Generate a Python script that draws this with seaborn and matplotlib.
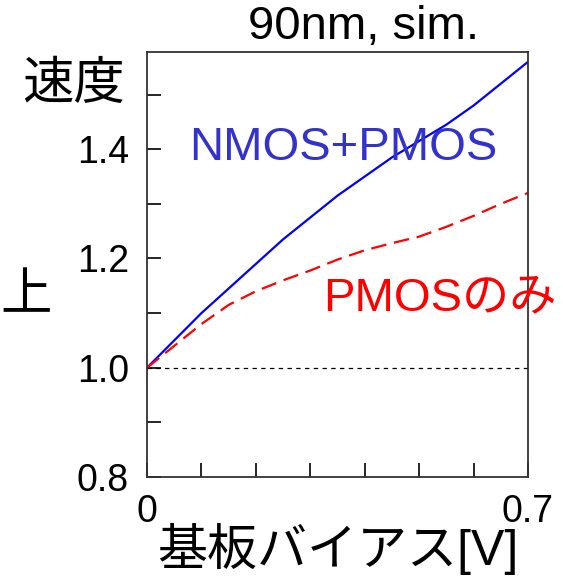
import matplotlib
matplotlib.use("Agg")
import matplotlib.pyplot as plt
import seaborn as sns
import pandas as pd

# dados
bias = [0.0, 0.05, 0.1, 0.15, 0.2, 0.25, 0.3, 0.35, 0.4, 0.45, 0.5, 0.55, 0.6, 0.65, 0.7]
nmos_pmos = [1.0, 1.05, 1.10, 1.145, 1.19, 1.235, 1.275, 1.315, 1.35, 1.385, 1.415,
             1.445, 1.48, 1.52, 1.56]
pmos_only = [1.0, 1.04, 1.08, 1.115, 1.14, 1.16, 1.178, 1.198, 1.215, 1.228, 1.24,
             1.258, 1.278, 1.30, 1.32]

yticks = [0.8, 1.0, 1.2, 1.4]
yminor = [0.9, 1.1, 1.3, 1.5]
xticks = [0.0, 0.1, 0.2, 0.3, 0.4, 0.5, 0.6, 0.7]
xticklabels = ["0", "", "", "", "", "", "", "0.7"]

df = pd.DataFrame({"bias": bias, "both": nmos_pmos, "pmos": pmos_only})

sns.set_style("ticks")
plt.rcParams['font.family'] = ['Liberation Sans', 'Noto Sans CJK JP']
plt.rcParams['text.color'] = 'black'

fig = plt.figure(figsize=(5.63, 5.79), dpi=100)
ax = fig.add_axes([0.2611, 0.1762, 0.6767, 0.734])

sns.lineplot(data=df, x="bias", y="both", ax=ax, color="#0000ff", linewidth=1.6)
sns.lineplot(data=df, x="bias", y="pmos", ax=ax, color="#ff0000", linewidth=1.6,
             linestyle=(0, (7, 3.5)))
ax.axhline(1.0, color="black", linewidth=0.9, linestyle=(0, (3.5, 3.5)))

ax.set_xlim(0, 0.7)
ax.set_ylim(0.8, 1.578)
ax.set_xticks(xticks)
ax.set_xticklabels(xticklabels)
ax.set_yticks(yticks)
ax.set_yticklabels(["0.8", "1.0", "1.2", "1.4"])
ax.set_yticks(yminor, minor=True)
ax.tick_params(axis="both", which="both", direction="in", length=10, width=1.2,
               labelsize=27, colors="black")
ax.tick_params(axis="y", pad=13)
ax.tick_params(axis="x", pad=12)
ax.set_xlabel("")
ax.set_ylabel("")
for s in ax.spines.values():
    s.set_color("#333333")
    s.set_linewidth(1.3)

# textos
fig.text(0.646, 0.953, "90nm, sim.", fontsize=34, ha="center", va="center")
ax.text(0.36, 1.402, "NMOS+PMOS", color="#3333cc", fontsize=34, ha="center", va="center")
fig.text(0.782, 0.485, "PMOSのみ", color="#ff0000", fontsize=34, ha="center", va="center")
fig.text(0.60, 0.052, "基板バイアス[V]", fontsize=36, ha="center", va="center")
fig.text(0.13, 0.853, "速度", fontsize=37, ha="center", va="center")
fig.text(0.0, 0.487, "上", fontsize=37, ha="left", va="center")

fig.savefig("out.png", dpi=100)
